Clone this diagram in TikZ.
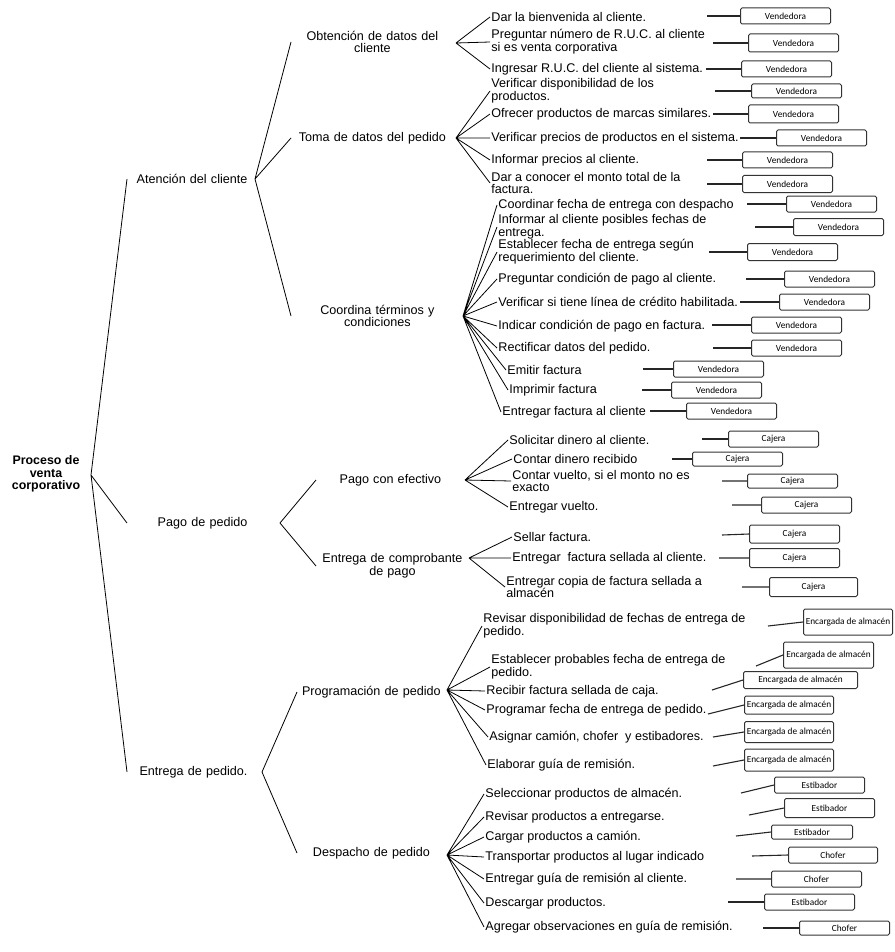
\documentclass[tikz,border=0pt]{standalone}
\usepackage{fontspec}
\setmainfont{Liberation Sans}
\newfontfamily\rolfont{Carlito}
\usepackage{tikz}
\usepackage{xcolor}

\begin{document}
\begin{tikzpicture}[x=1pt,y=-1pt,line width=0.8pt,
	font=\fontsize{12.6}{12.8}\selectfont,
	raiz/.style={align=center,inner sep=0pt,font=\bfseries\fontsize{12.4}{12.6}\selectfont},
	nivel1/.style={anchor=west,text width=120pt,align=right,inner sep=0pt},
	nivel2/.style={anchor=west,text width=162pt,align=center,inner sep=0pt},
	tarea/.style={anchor=west,align=left,inner sep=1pt},
	rol/.style={anchor=west,draw=black!80,line width=1pt,rounded corners=1.5pt,inner sep=0pt,
		minimum width=90pt,minimum height=16pt,font=\rolfont\fontsize{9.3}{10}\selectfont},
	enlace/.style={line width=1.1pt,black!85}]
	\useasboundingbox (0,0) rectangle (894,952);
	\node[raiz] (proc) at (46,474) {Proceso de\\venta\\corporativo};
	\coordinate (proc-r) at (91,475);
	\node[nivel1] (aten) at (127,179) {Atención del cliente};
	\node[nivel1] (pago) at (127,523) {Pago de pedido};
	\node[nivel1] (entr) at (127,772) {Entrega de pedido.};
	\draw (proc-r) -- (aten.west) (proc-r) -- (pago.west) (proc-r) -- (entr.west);
	\coordinate (aten-r) at (255,179);
	\coordinate (pago-r) at (280,523);
	\coordinate (entr-r) at (262,772);
	\node[nivel2] (obt) at (291,42) {Obtención de datos del\\cliente};
	\node[nivel2] (toma) at (291,138) {Toma de datos del pedido};
	\node[nivel2,text width=172pt] (coord) at (291,316) {Coordina términos y\\condiciones};
	\node[nivel2,text width=148pt] (efec) at (316,480) {Pago con efectivo};
	\node[nivel2,text width=152pt] (comp) at (316,566) {Entrega de comprobante\\de pago};
	\node[nivel2,text width=148pt] (prog) at (297,692) {Programación de pedido};
	\node[nivel2,text width=148pt] (desp) at (297,853) {Despacho de pedido};
	\draw (aten-r) -- (obt.west) (aten-r) -- (toma.west) (aten-r) -- (coord.west);
	\draw (pago-r) -- (efec.west) (pago-r) -- (comp.west);
	\draw (entr-r) -- (prog.west) (entr-r) -- (desp.west);
	\coordinate (obt-r) at (456,43);
	\coordinate (toma-r) at (456,138);
	\coordinate (coord-r) at (463,316);
	\coordinate (efec-r) at (465,480);
	\coordinate (comp-r) at (469,558);
	\coordinate (prog-r) at (447,690);
	\coordinate (desp-r) at (447,855);

	\node[tarea] (t1) at (490,17) {Dar la bienvenida al cliente.};
	\node[tarea] (t2) at (490,42) {Preguntar número de R.U.C. al cliente\\si es venta corporativa};
	\node[tarea] (t3) at (490,69) {Ingresar R.U.C. del cliente al sistema.};
	\node[tarea] (t4) at (490,91) {Verificar disponibilidad de los\\productos.};
	\node[tarea] (t5) at (490,114) {Ofrecer productos de marcas similares.};
	\node[tarea] (t6) at (490,138) {Verificar precios de productos en el sistema.};
	\node[tarea] (t7) at (490,160) {Informar precios al cliente.};
	\node[tarea] (t8) at (490,183) {Dar a conocer el monto total de la\\factura.};
	\node[tarea] (t9) at (497,205) {Coordinar fecha de entrega con despacho};
	\node[tarea] (t10) at (497,227) {Informar al cliente posibles fechas de\\entrega.};
	\node[tarea] (t11) at (497,252) {Establecer fecha de entrega según\\requerimiento del cliente.};
	\node[tarea] (t12) at (497,279) {Preguntar condición de pago al cliente.};
	\node[tarea] (t13) at (497,302) {Verificar si tiene línea de crédito habilitada.};
	\node[tarea] (t14) at (497,326) {Indicar condición de pago en factura.};
	\node[tarea] (t15) at (497,348) {Rectificar datos del pedido.};
	\node[tarea] (t16) at (506,370) {Emitir factura};
	\node[tarea] (t17) at (508,390) {Imprimir factura};
	\node[tarea] (t18) at (501,412) {Entregar factura al cliente};
	\node[tarea] (t19) at (508,440) {Solicitar dinero al cliente.};
	\node[tarea] (t20) at (512,459) {Contar dinero recibido};
	\node[tarea] (t21) at (511,481) {Contar vuelto, si el monto no es\\exacto};
	\node[tarea] (t22) at (508,507) {Entregar vuelto.};
	\node[tarea] (t23) at (512,537) {Sellar factura.};
	\node[tarea] (t24) at (511,558) {Entregar\ \ factura sellada al cliente.};
	\node[tarea] (t25) at (505,587) {Entregar copia de factura sellada a\\almacén};
	\node[tarea] (t26) at (482,626) {Revisar disponibilidad de fechas de entrega de\\pedido.};
	\node[tarea] (t27) at (490,667) {Establecer probables fecha de entrega de\\pedido.};
	\node[tarea] (t28) at (485,691) {Recibir factura sellada de caja.};
	\node[tarea] (t29) at (485,710) {Programar fecha de entrega de pedido.};
	\node[tarea] (t30) at (488,737) {Asignar camión, chofer\ \ y estibadores.};
	\node[tarea] (t31) at (486,765) {Elaborar guía de remisión.};
	\node[tarea] (t32) at (484,794) {Seleccionar productos de almacén.};
	\node[tarea] (t33) at (484,817) {Revisar productos a entregarse.};
	\node[tarea] (t34) at (484,837) {Cargar productos a camión.};
	\node[tarea] (t35) at (484,857) {Transportar productos al lugar indicado};
	\node[tarea] (t36) at (484,879) {Entregar guía de remisión al cliente.};
	\node[tarea] (t37) at (484,903) {Descargar productos.};
	\node[tarea] (t38) at (484,927) {Agregar observaciones en guía de remisión.};
	\draw (obt-r) -- (t1.west) (obt-r) -- (t2.west) (obt-r) -- (t3.west);
	\draw (toma-r) -- (t4.west) (toma-r) -- (t5.west) (toma-r) -- (t6.west) (toma-r) -- (t7.west) (toma-r) -- (t8.west);
	\draw (coord-r) -- (t9.west) (coord-r) -- (t10.west) (coord-r) -- (t11.west) (coord-r) -- (t12.west) (coord-r) -- (t13.west);
	\draw (coord-r) -- (t14.west) (coord-r) -- (t15.west) (coord-r) -- (t16.west) (coord-r) -- (t17.west) (coord-r) -- (t18.west);
	\draw (efec-r) -- (t19.west) (efec-r) -- (t20.west) (efec-r) -- (t21.west) (efec-r) -- (t22.west);
	\draw (comp-r) -- (t23.west) (comp-r) -- (t24.west) (comp-r) -- (t25.west);
	\draw (prog-r) -- (t26.west) (prog-r) -- (t27.west) (prog-r) -- (t28.west) (prog-r) -- (t29.west) (prog-r) -- (t30.west) (prog-r) -- (t31.west);
	\draw (desp-r) -- (t32.west) (desp-r) -- (t33.west) (desp-r) -- (t34.west) (desp-r) -- (t35.west) (desp-r) -- (t36.west) (desp-r) -- (t37.west) (desp-r) -- (t38.west);

	\node[rol] (b1) at (740,16) {Vendedora};
	\node[rol,minimum height=18pt] (b2) at (748,43) {Vendedora};
	\node[rol] (b3) at (741,69) {Vendedora};
	\node[rol,minimum height=14pt] (b4) at (751,91) {Vendedora};
	\node[rol,minimum height=18pt] (b5) at (748,114) {Vendedora};
	\node[rol] (b6) at (776,138) {Vendedora};
	\node[rol] (b7) at (742,160) {Vendedora};
	\node[rol,minimum height=17pt] (b8) at (742,184) {Vendedora};
	\node[rol] (b9) at (786,204) {Vendedora};
	\node[rol,minimum height=17pt] (b10) at (793,227) {Vendedora};
	\node[rol,minimum height=17pt] (b11) at (747,252) {Vendedora};
	\node[rol] (b12) at (784,279) {Vendedora};
	\node[rol] (b13) at (779,302) {Vendedora};
	\node[rol] (b14) at (751,325) {Vendedora};
	\node[rol] (b15) at (751,348) {Vendedora};
	\node[rol] (b16) at (673,369) {Vendedora};
	\node[rol] (b17) at (671,390) {Vendedora};
	\node[rol] (b18) at (686,411) {Vendedora};
	\node[rol] (b19) at (728,439) {Cajera};
	\node[rol,minimum height=14pt] (b20) at (692,459) {Cajera};
	\node[rol,minimum height=14pt] (b21) at (747,481) {Cajera};
	\node[rol] (b22) at (761,505) {Cajera};
	\node[rol,minimum height=18pt] (b23) at (749,534) {Cajera};
	\node[rol,minimum height=19pt] (b24) at (749,558) {Cajera};
	\node[rol,minimum height=19pt,minimum width=88pt] (b25) at (769,587) {Cajera};
	\node[rol,minimum height=26pt,minimum width=89pt] (b26) at (803,622) {Encargada de almacén};
	\node[rol,minimum height=26pt] (b27) at (783,655) {Encargada de almacén};
	\node[rol,minimum height=17pt,minimum width=114pt] (b28) at (743,680) {Encargada de almacén};
	\node[rol,minimum height=18pt,minimum width=89pt] (b29) at (744,705) {Encargada de almacén};
	\node[rol,minimum height=21pt,minimum width=89pt] (b30) at (744,732) {Encargada de almacén};
	\node[rol,minimum height=22pt,minimum width=89pt] (b31) at (744,760) {Encargada de almacén};
	\node[rol] (b32) at (774,785) {Estibador};
	\node[rol,minimum height=19pt] (b33) at (784,808) {Estibador};
	\node[rol,minimum height=14pt,minimum width=81pt] (b34) at (771,832) {Estibador};
	\node[rol,minimum width=89pt] (b35) at (788,855) {Chofer};
	\node[rol] (b36) at (771,879) {Chofer};
	\node[rol] (b37) at (764,902) {Estibador};
	\node[rol,minimum height=14pt] (b38) at (799,928) {Chofer};
	\draw[enlace] (b1.west) -- ++(-33,0) (b2.west) -- ++(-35,0) (b3.west) -- ++(-35,0) (b4.west) -- ++(-36,0);
	\draw[enlace] (b5.west) -- ++(-35,0) (b6.west) -- ++(-36,0) (b7.west) -- ++(-35,0) (b8.west) -- ++(-35,0);
	\draw[enlace] (b9.west) -- ++(-39,0) (b10.west) -- ++(-38,0) (b11.west) -- ++(-38,0) (b12.west) -- ++(-38,0);
	\draw[enlace] (b13.west) -- ++(-39,0) (b14.west) -- ++(-39,0) (b15.west) -- ++(-38,0) (b16.west) -- ++(-30,0);
	\draw[enlace] (b17.west) -- ++(-29,0) (b18.west) -- ++(-36,0) (b19.west) -- ++(-26,0) (b20.west) -- ++(-20,0);
	\draw[enlace] (b21.west) -- ++(-25,0) (b22.west) -- ++(-29,0) (b23.west) -- ++(-27,1) (b24.west) -- ++(-30,0);
	\draw[enlace] (b25.west) -- ++(-27,0) (b26.west) -- ++(-35,4) (b27.west) -- ++(-27,11) (b28.west) -- ++(-31,10);
	\draw[enlace] (b29.west) -- ++(-36,9) (b30.west) -- ++(-31,5) (b31.west) -- ++(-31,6) (b32.west) -- ++(-33,8);
	\draw[enlace] (b33.west) -- ++(-35,7) (b34.west) -- ++(-35,4) (b35.west) -- ++(-36,1) (b36.west) -- ++(-35,0);
	\draw[enlace] (b37.west) -- ++(-36,0) (b38.west) -- ++(-36,0);
\end{tikzpicture}
\end{document}
